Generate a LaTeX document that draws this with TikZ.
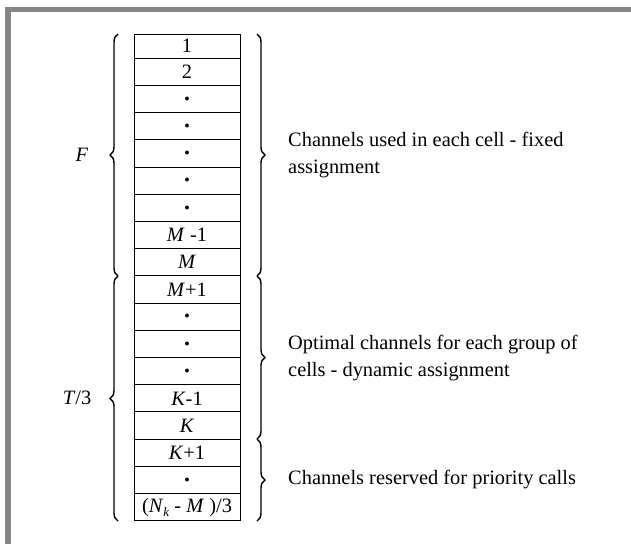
\documentclass[tikz,border=0pt]{standalone}
\usepackage{fontspec}
\setmainfont{Liberation Serif}
\usetikzlibrary{decorations.pathreplacing}

\newcommand{\rowdot}{{\fontsize{10}{10}\selectfont$\bullet$}}
\tikzset{
  frame/.style={draw=gray!95!white, line width=5.5pt},
  cell/.style={draw, line width=1pt, minimum width=106pt, minimum height=27.2pt, inner sep=0pt},
  curly/.style={decorate, decoration={brace, amplitude=8pt}, line width=1.4pt},
  side/.style={anchor=west, align=left, inner sep=0pt}
}

\begin{document}
\begin{tikzpicture}[x=1pt, y=-1pt, font=\fontsize{20.4}{27.2}\selectfont]
    \useasboundingbox (0,0) rectangle (631,544);

    % grey frame at top and left
    \draw[frame] (8,544) -- (8,9.5) -- (631,9.5);

    % the column of channels (first row is a little lower)
    \node[cell, minimum height=24.3pt] (r1) at (187,46.15) {1};
    \foreach \lab [count=\i from 2] in {2, \rowdot, \rowdot, \rowdot, \rowdot, \rowdot,
        \textit{M} -1, \textit{M}, \textit{M}+1, \rowdot, \rowdot, \rowdot,
        \textit{K}-1, \textit{K}, \textit{K}+1, \rowdot,
        (\textit{N}\raisebox{-0.45ex}{\fontsize{13}{13}\selectfont\textit{k}} - \textit{M} )/3}
        \node[cell] (r\i) at (187, {58.3+27.2*(\i-1.5)}) {\lab};

    % break points of the braces
    \coordinate (LT) at (118,34);
    \coordinate (LM) at (118,276);
    \coordinate (LB) at (118,521);
    \coordinate (RT) at (257,34);
    \coordinate (RM) at (257,276);
    \coordinate (RK) at (257,439);
    \coordinate (RB) at (257,521);

    % braces on the left
    \draw[curly] (LM) -- (LT);
    \draw[curly] (LB) -- (LM);
    \node (F) at (82,155) {\textit{F}};
    \node (T) at (77,398) {\textit{T}/3};

    % braces on the right
    \draw[curly] (RT) -- (RM);
    \draw[curly] (RM) -- (RK);
    \draw[curly] (RK) -- (RB);
    \node[side] (fixed) at (288,155) {Channels used in each cell - fixed\\assignment};
    \node[side] (dyn) at (288,358) {Optimal channels for each group of\\cells - dynamic assignment};
    \node[side] (prio) at (288,480) {Channels reserved for priority calls};
\end{tikzpicture}
\end{document}
